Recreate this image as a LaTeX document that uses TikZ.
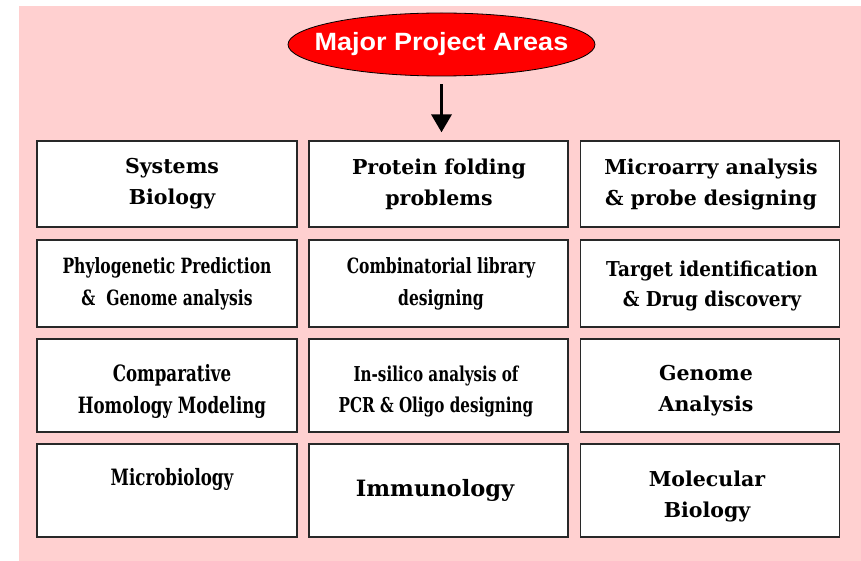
\documentclass[tikz,border=0pt]{standalone}
\usepackage{fontspec}
\setmainfont{DejaVu Serif}
\newfontfamily\condfont[FakeStretch=0.74]{DejaVu Serif}
\newfontfamily\semicondfont[FakeStretch=0.9]{DejaVu Serif}
\newfontfamily\titlefont[FakeStretch=1.08]{Liberation Sans}
\usetikzlibrary{shapes.geometric,arrows.meta}
\definecolor{pinkbg}{RGB}{255,208,208}
\definecolor{boxline}{RGB}{40,40,40}
\tikzset{
  cell/.style={draw=boxline,line width=1.3pt,fill=white,inner sep=0pt},
  lbl/.style={align=center,inner sep=0pt,font=\fontsize{20.5}{31}\selectfont\bfseries},
  clbl/.style={align=center,inner sep=0pt,font=\fontsize{21}{32}\condfont\bfseries},
  titleell/.style={ellipse,draw=black,line width=0.8pt,fill=red,inner sep=0pt,
     minimum width=307pt,minimum height=63pt},
  titletext/.style={inner sep=0pt,text=white,font=\fontsize{25}{25}\titlefont\bfseries},
  arr/.style={line width=3.5pt,-{Triangle[width=20pt,length=18pt]}}
}
\begin{document}
\begin{tikzpicture}[x=1pt,y=-1pt]
\useasboundingbox (0,0) rectangle (861,561);
\fill[pinkbg] (19,6) rectangle (861,561);

\node[titleell] (ell) at (441.5,44.5) {};
\node[titletext] (title) at (ell.center) {Major Project Areas};

% boxes
\node[cell,minimum width=260pt,minimum height=86pt] (b11) at (167,184) {};
\node[cell,minimum width=259pt,minimum height=86pt] (b12) at (438.5,184) {};
\node[cell,minimum width=259pt,minimum height=86pt] (b13) at (710,184) {};
\node[cell,minimum width=260pt,minimum height=87pt] (b21) at (167,283.5) {};
\node[cell,minimum width=259pt,minimum height=87pt] (b22) at (438.5,283.5) {};
\node[cell,minimum width=259pt,minimum height=87pt] (b23) at (710,283.5) {};
\node[cell,minimum width=260pt,minimum height=93pt] (b31) at (167,385.5) {};
\node[cell,minimum width=259pt,minimum height=93pt] (b32) at (438.5,385.5) {};
\node[cell,minimum width=259pt,minimum height=93pt] (b33) at (710,385.5) {};
\node[cell,minimum width=260pt,minimum height=93pt] (b41) at (167,490.5) {};
\node[cell,minimum width=259pt,minimum height=93pt] (b42) at (438.5,490.5) {};
\node[cell,minimum width=259pt,minimum height=93pt] (b43) at (710,490.5) {};

% labels
\node[lbl] (t11) at (172,184) {Systems\\Biology};
\node[lbl] (t12) at (439,184) {Protein folding\\problems};
\node[lbl] (t13) at (711,184) {Microarry analysis\\\& probe designing};
\node[clbl] (t21) at (167,284) {Phylogenetic Prediction\\\&~ Genome analysis};
\node[clbl] (t22) at (441,284) {Combinatorial library\\designing};
\node[lbl,font=\fontsize{20.5}{30}\semicondfont\bfseries] (t23) at (712,286) {Target identification\\\& Drug discovery};
\node[clbl,font=\fontsize{22.5}{32}\condfont\bfseries] (t31) at (172,391) {Comparative\\Homology Modeling};
\node[clbl,font=\fontsize{20.5}{31}\condfont\bfseries] (t32) at (436,391) {In-silico analysis of\\PCR \& Oligo designing};
\node[lbl] (t33) at (706,391) {Genome\\Analysis};
\node[clbl,font=\fontsize{22.5}{32}\condfont\bfseries] (t41) at (172,479) {Microbiology};
\node[lbl,font=\fontsize{22.5}{26}\selectfont\bfseries] (t42) at (435,490) {Immunology};
\node[lbl] (t43) at (707,496) {Molecular\\Biology};

% arrow
\draw[arr,shorten <=8pt,shorten >=8pt] (ell.south) -- (ell.south |- b12.north);
\end{tikzpicture}
\end{document}
